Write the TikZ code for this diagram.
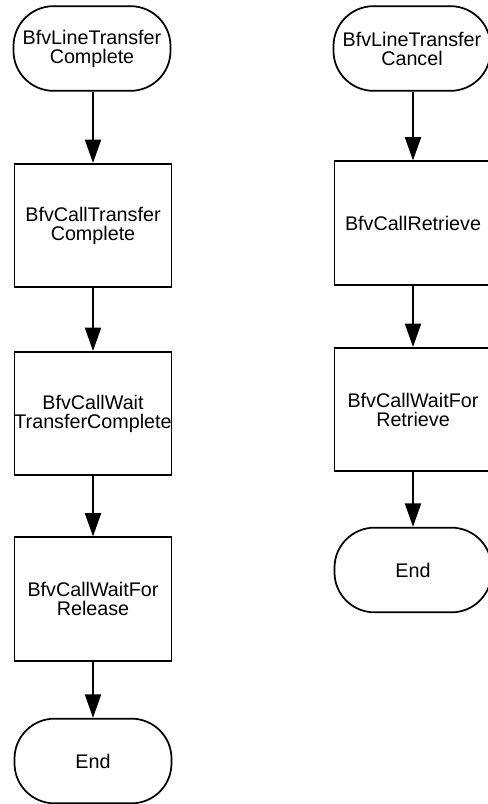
\documentclass[tikz,border=0pt]{standalone}
\usepackage{fontspec}
\setmainfont{Liberation Sans}
\usetikzlibrary{arrows.meta}
\tikzset{
  procbox/.style={draw, line width=1.3pt, rectangle, minimum width=117.75pt, minimum height=92.5pt,
    inner sep=0pt, align=center, font=\fontsize{14.8}{14.3}\selectfont},
  termbox/.style={draw, line width=1.3pt, rectangle, rounded corners=30pt, minimum width=117.75pt,
    minimum height=63.5pt, inner sep=0pt, align=center, font=\fontsize{14.8}{14.3}\selectfont},
  flow/.style={line width=1.4pt, -{Triangle[length=17.5pt, width=12pt]}}
}
\begin{document}
\begin{tikzpicture}[x=0.75pt, y=-0.75pt]
\useasboundingbox (0,0) rectangle (488,804);
\clip (0,0) rectangle (488,804);
% left column
\node[termbox] (l0) at (92,48.5) {BfvLineTransfer\\Complete};
\node[procbox] (l1) at (93,225.5) {BfvCallTransfer\\Complete};
\node[procbox] (l2) at (93,413.5) {BfvCallWait\\TransferComplete};
\node[procbox] (l3) at (93,599) {BfvCallWaitFor\\Release};
\node[termbox] (l4) at (93,761) {End};
\draw[flow] (l0.south -| l1.north) -- (l1.north);
\draw[flow] (l1) -- (l2);
\draw[flow] (l2) -- (l3);
\draw[flow] (l3) -- (l4);
% right column
\node[termbox] (r0) at (412,48.5) {BfvLineTransfer\\Cancel};
\node[procbox] (r1) at (413,223) {BfvCallRetrieve};
\node[procbox] (r2) at (413,409.5) {BfvCallWaitFor\\Retrieve};
\node[termbox] (r3) at (413,570) {End};
\draw[flow] (r0.south -| r1.north) -- (r1.north);
\draw[flow] (r1) -- (r2);
\draw[flow] (r2) -- (r3);
\end{tikzpicture}
\end{document}
